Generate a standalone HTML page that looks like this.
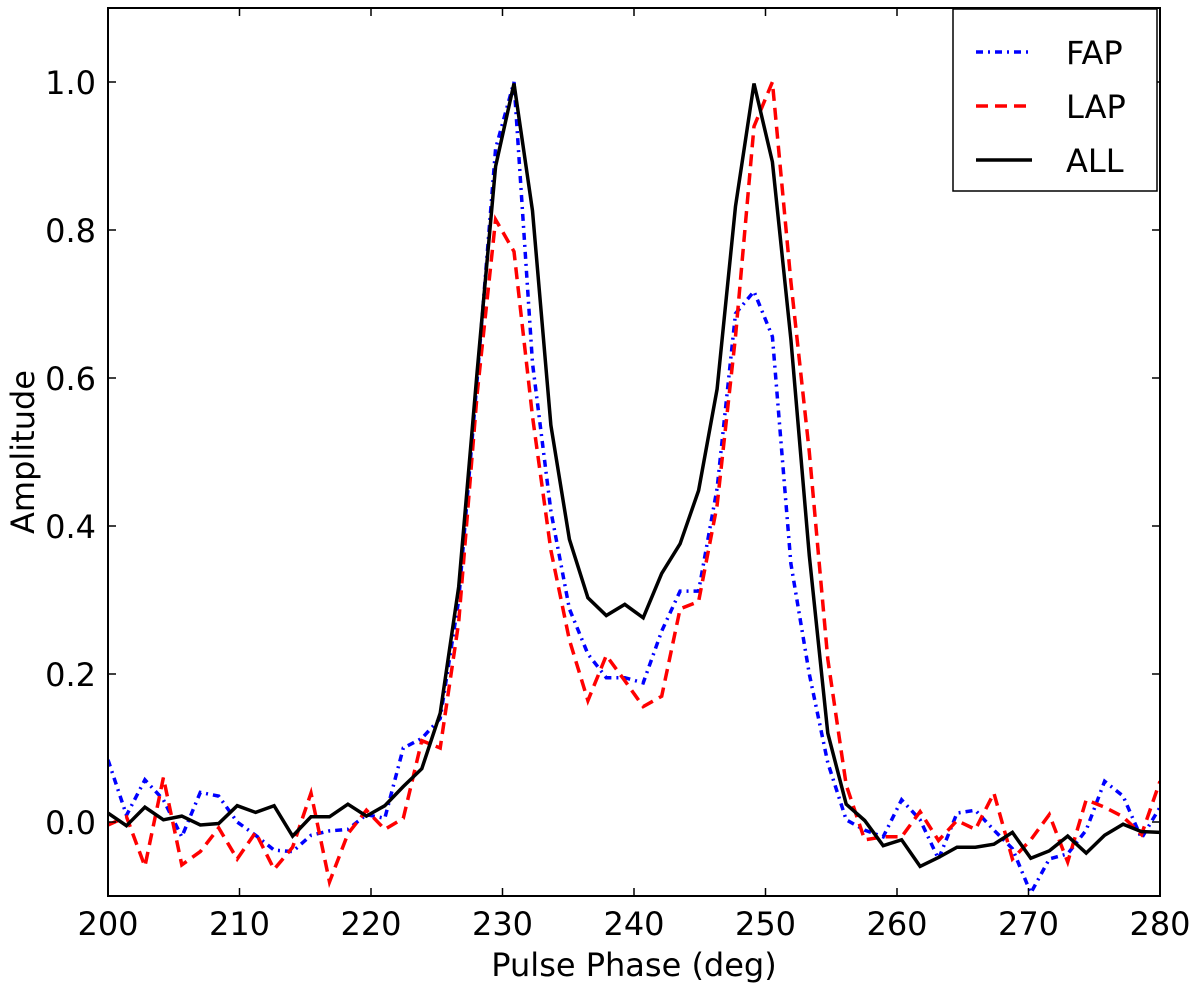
<!DOCTYPE html>
<html><head><meta charset="utf-8"><style>
html,body{margin:0;padding:0;background:#fff;}
svg{display:block;font-family:"DejaVu Sans","Liberation Sans",sans-serif;}
</style></head><body>
<svg id="chart" width="1200" height="984" viewBox="0 0 1200 984" xmlns="http://www.w3.org/2000/svg"></svg>
<script>
const xTicks = [200,210,220,230,240,250,260,270,280];
const yTicks = [0.0,0.2,0.4,0.6,0.8,1.0];
const yTickLabels = ["0.0","0.2","0.4","0.6","0.8","1.0"];
const phaseStart = 200;
const phaseEnd = 280;
const fapValues = [0.084,0.009,0.057,0.03,-0.02,0.04,0.035,0.0,-0.018,-0.038,-0.04,-0.018,-0.012,-0.01,0.01,0.005,0.1,0.113,0.14,0.3,0.597,0.91,1.0,0.62,0.42,0.288,0.227,0.195,0.195,0.188,0.258,0.312,0.312,0.451,0.687,0.717,0.656,0.349,0.2,0.08,0.003,-0.011,-0.02,0.03,0.003,-0.05,0.012,0.016,-0.011,-0.036,-0.096,-0.05,-0.043,-0.011,0.055,0.035,-0.022,0.02];
const lapValues = [-0.004,0.007,-0.06,0.06,-0.058,-0.04,-0.008,-0.05,-0.014,-0.064,-0.034,0.039,-0.081,-0.016,0.016,-0.01,0.005,0.11,0.10,0.27,0.578,0.814,0.771,0.548,0.367,0.246,0.164,0.225,0.191,0.156,0.17,0.288,0.298,0.428,0.656,0.94,1.0,0.73,0.5,0.22,0.05,-0.024,-0.02,-0.02,0.014,-0.025,0.002,-0.01,0.039,-0.05,-0.024,0.01,-0.054,0.03,0.02,0.007,-0.017,0.055];
const allValues = [0.012,-0.005,0.02,0.003,0.008,-0.004,-0.002,0.022,0.013,0.022,-0.019,0.007,0.007,0.024,0.008,0.022,0.048,0.072,0.147,0.318,0.608,0.886,0.998,0.826,0.536,0.382,0.303,0.279,0.294,0.276,0.336,0.376,0.448,0.585,0.832,0.998,0.892,0.652,0.36,0.12,0.024,0.002,-0.032,-0.024,-0.06,-0.048,-0.034,-0.034,-0.03,-0.014,-0.049,-0.039,-0.019,-0.042,-0.018,-0.003,-0.013,-0.014];
const legendLabels = ["FAP","LAP","ALL"];

const L=108,R=1160,T=8,B=896, yMin=-0.1, yMax=1.1;
const sx = v => L + (v-phaseStart)/(phaseEnd-phaseStart)*(R-L);
const sy = v => B - (v-yMin)/(yMax-yMin)*(B-T);
const svg = document.getElementById('chart');
const NS = "http://www.w3.org/2000/svg";
function mk(tag, attrs){const e=document.createElementNS(NS,tag);for(const k in attrs)e.setAttribute(k,attrs[k]);svg.appendChild(e);return e;}

const clip = document.createElementNS(NS,'clipPath'); clip.setAttribute('id','pc');
const cr = document.createElementNS(NS,'rect'); cr.setAttribute('x',L);cr.setAttribute('y',T);cr.setAttribute('width',R-L);cr.setAttribute('height',B-T);
clip.appendChild(cr); svg.appendChild(clip);

function series(vals, color, dash, name){
  const n = vals.length;
  const pts = vals.map((v,i)=>sx(phaseStart + i*(phaseEnd-phaseStart)/(n-1)).toFixed(1)+','+sy(v).toFixed(1)).join(' ');
  const p = mk('polyline',{points:pts,fill:'none',stroke:color,'stroke-width':3.5,'stroke-dasharray':dash,'clip-path':'url(#pc)','stroke-linejoin':'miter'});
  
  
}
series(fapValues,'#0000ff','7 5 2 5','fap-line');
series(lapValues,'#ff0000','12 7','lap-line');
series(allValues,'#000000','none','all-line');

const frame = mk('rect',{x:L,y:T,width:R-L,height:B-T,fill:'none',stroke:'#000','stroke-width':2});



xTicks.forEach(t=>{
  const x=sx(t);
  mk('line',{x1:x,y1:B,x2:x,y2:B-8,stroke:'#000','stroke-width':1.5});
  mk('line',{x1:x,y1:T,x2:x,y2:T+8,stroke:'#000','stroke-width':1.5});
  const tx=mk('text',{x:x,y:B+39,'text-anchor':'middle','font-size':32,fill:'#000'});
  tx.textContent=t;
  
  
});
yTicks.forEach((t,i)=>{
  const y=sy(t);
  mk('line',{x1:L,y1:y,x2:L+8,y2:y,stroke:'#000','stroke-width':1.5});
  mk('line',{x1:R,y1:y,x2:R-8,y2:y,stroke:'#000','stroke-width':1.5});
  const tx=mk('text',{x:L-12,y:y+12,'text-anchor':'end','font-size':32,fill:'#000'});
  tx.textContent=yTickLabels[i];
  
  
});
const xt=mk('text',{x:(L+R)/2,y:976,'text-anchor':'middle','font-size':32,fill:'#000'});
xt.textContent='Pulse Phase (deg)';


const yt=mk('text',{x:0,y:0,'text-anchor':'middle','font-size':32,fill:'#000',transform:'translate(34,452) rotate(-90)'});
yt.textContent='Amplitude';



const lg=mk('rect',{x:953,y:9,width:204,height:182,fill:'#fff',stroke:'#000','stroke-width':1.5});


const lgStyles=[['#0000ff','7 5 2 5'],['#ff0000','12 7'],['#000','none']];
legendLabels.forEach((lab,i)=>{
  const y=52+i*54;
  const ln=mk('line',{x1:976,y1:y,x2:1032,y2:y,stroke:lgStyles[i][0],'stroke-width':3.5,'stroke-dasharray':lgStyles[i][1]});
  
  
  const tx=mk('text',{x:1066,y:y+12,'font-size':32,fill:'#000'});
  tx.textContent=lab;
  
  
});
</script>
</body></html>
